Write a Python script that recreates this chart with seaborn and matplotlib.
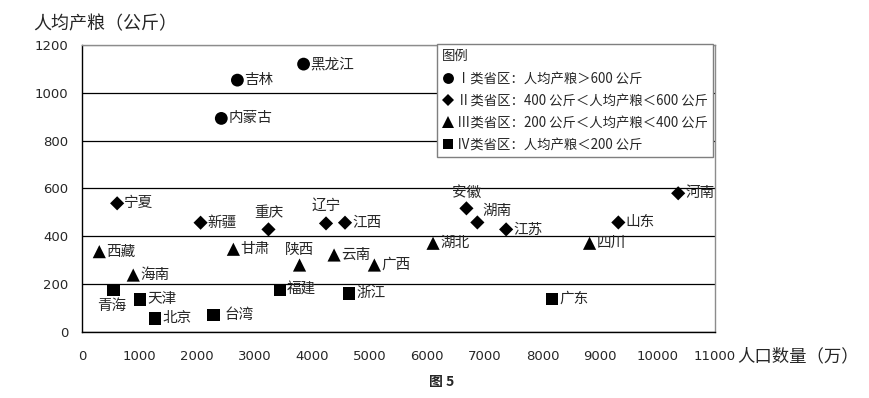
import pandas as pd
import matplotlib.pyplot as plt
import seaborn as sns

# data: population (10k people) vs grain per capita (kg)
provinces = ['黑龙江', '吉林', '内蒙古',
             '宁夏', '新疆', '重庆', '辽宁', '江西', '安徽', '湖南', '江苏', '山东', '河南',
             '西藏', '海南', '甘肃', '陕西', '云南', '广西', '湖北', '四川',
             '青海', '天津', '北京', '台湾', '福建', '浙江', '广东']
population = [3850, 2700, 2420,
              610, 2060, 3240, 4240, 4570, 6680, 6870, 7370, 9320, 10360,
              300, 890, 2630, 3780, 4380, 5080, 6100, 8820,
              545, 1010, 1270, 2280, 3440, 4640, 8170]
grain = [1120, 1053, 893,
         538, 457, 429, 454, 457, 517, 458, 429, 458, 580,
         336, 238, 346, 280, 322, 280, 371, 371,
         176, 137, 57, 71, 176, 162, 138]
classes = ['I'] * 3 + ['II'] * 10 + ['III'] * 8 + ['IV'] * 7

class_names = {
    'I': 'Ⅰ类省区：人均产粮＞600 公斤',
    'II': 'Ⅱ类省区：400 公斤＜人均产粮＜600 公斤',
    'III': 'Ⅲ类省区：200 公斤＜人均产粮＜400 公斤',
    'IV': 'Ⅳ类省区：人均产粮＜200 公斤',
}
class_markers = {class_names['I']: 'o', class_names['II']: 'D',
                 class_names['III']: '^', class_names['IV']: 's'}
class_sizes = {class_names['I']: 85, class_names['II']: 52,
               class_names['III']: 90, class_names['IV']: 82}

# label offsets in pixels (dx, dy, ha)
label_offsets = {'青海': (-2, -16, 'center'), '重庆': (0, 16, 'center'),
                 '辽宁': (0, 18, 'center'), '安徽': (0, 15, 'center'),
                 '陕西': (0, 15, 'center'), '湖南': (5, 12, 'left'),
                 '台湾': (11, 0, 'left')}

df = pd.DataFrame({'province': provinces, 'population': population,
                   'grain': grain,
                   'category': [class_names[c] for c in classes]})

sns.set_style('white')
plt.rcParams['font.family'] = ['Noto Sans CJK SC', 'DejaVu Sans']

fig = plt.figure(figsize=(8.69, 3.98), dpi=100)
ax = fig.add_axes([0.0944, 0.1658, 0.7284, 0.7212])

order = list(class_names.values())
sns.scatterplot(data=df, x='population', y='grain', style='category',
                size='category', sizes=class_sizes, size_order=order,
                markers=class_markers, color='black', linewidth=0,
                style_order=order, ax=ax, zorder=3)

for _, row in df.iterrows():
    dx, dy, ha = label_offsets.get(row['province'], (7, 0, 'left'))
    ax.annotate(row['province'], (row['population'], row['grain']),
                xytext=(dx, dy), textcoords='offset pixels',
                ha=ha, va='center', fontsize=10.5, zorder=4)

ax.set_xlim(0, 11000)
ax.set_ylim(0, 1200)
ax.set_xticks(range(0, 11001, 1000))
ax.set_yticks(range(0, 1201, 200))
ax.set_xlabel('')
ax.set_ylabel('')
ax.tick_params(axis='x', direction='in', length=5, width=1, pad=13,
               labelsize=9.5, color='black')
ax.tick_params(axis='y', length=0, pad=10, labelsize=9.5)
for lab in ax.get_xticklabels() + ax.get_yticklabels():
    lab.set_family('DejaVu Sans')

ax.yaxis.grid(True, color='black', lw=0.9)
ax.get_ygridlines()[-1].set_color('#8c8c8c')
ax.set_axisbelow(True)
for side in ['left', 'bottom']:
    ax.spines[side].set_color('black')
    ax.spines[side].set_linewidth(1)
for side in ['top', 'right']:
    ax.spines[side].set_color('#8c8c8c')
    ax.spines[side].set_linewidth(1)

sns.move_legend(ax, 'upper right', bbox_to_anchor=(0.8205, 0.8894),
                bbox_transform=fig.transFigure, borderaxespad=0,
                title='图例', alignment='left', fontsize=9.6, title_fontsize=9.6,
                frameon=True, fancybox=False, framealpha=1, edgecolor='#7f7f7f',
                labelspacing=0.6, handletextpad=0.2, handlelength=0.9,
                borderpad=0.4, markerscale=0.85)

fig.text(33 / 869, 1 - 24 / 398, '人均产粮（公斤）', ha='left', va='center',
         fontsize=13)
fig.text(737 / 869, 1 - 356 / 398, '人口数量（万）', ha='left', va='center',
         fontsize=12.5)
fig.text(442 / 869, 1 - 382 / 398, '图 5', ha='center', va='center',
         fontsize=10, fontweight='bold')

plt.savefig('out.png', dpi=100)
